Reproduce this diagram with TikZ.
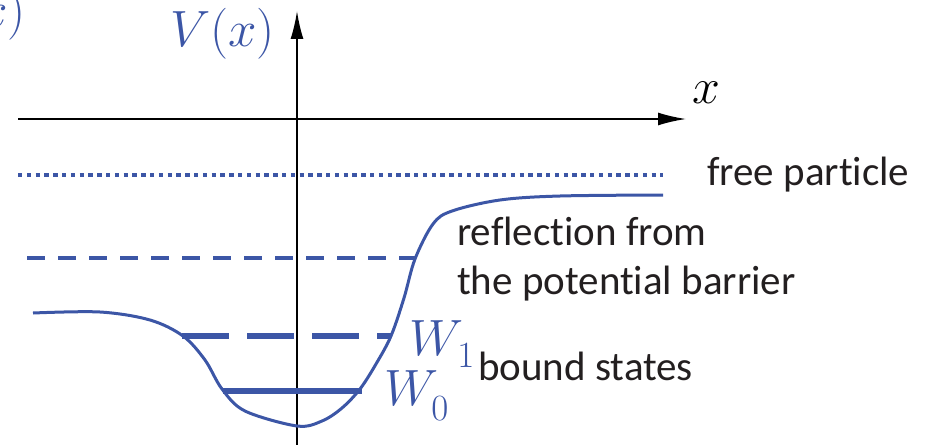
\RequirePackage{fix-cm}
\documentclass[tikz,border=0pt]{standalone}
\usepackage{fontspec}
\setmainfont{Carlito}[Ligatures=NoCommon]
\usetikzlibrary{arrows.meta}
\definecolor{potblue}{RGB}{60,86,166}
\definecolor{txtgray}{RGB}{35,31,32}
\tikzset{
  axisline/.style={line width=1.8pt, black, -{Latex[length=28pt,width=13pt]}},
  curveline/.style={line width=3pt, potblue},
  lbltext/.style={font=\fontsize{41}{48}\selectfont, text=txtgray, inner sep=0pt, anchor=base west, align=left},
  mathlbl/.style={text=potblue, inner sep=0pt, anchor=base west},
}
\newcommand{\mth}[1]{{\fontsize{51}{51}\selectfont$#1$}}
\newcommand{\subnum}[2]{{\fontsize{37}{37}\selectfont\raisebox{#1}{$#2$}}}
\newcommand{\Vofx}{\mth{V(x)}}
\begin{document}
\begin{tikzpicture}[x=1pt,y=-1pt]
\useasboundingbox (0,0) rectangle (933,444);
% axes
\coordinate (xl) at (18,119);
\coordinate (xr) at (686,119);
\coordinate (yb) at (297,450);
\coordinate (yt) at (297,11);
\draw[axisline] (xl) -- (xr);
\draw[axisline] (yb) -- (yt);
\node[font=\fontsize{50}{50}\selectfont, inner sep=0pt, anchor=base west] (xlab) at (692,103) {$x$};
\node[mathlbl] (vlab) at (170,46) {\Vofx};
\node[mathlbl, anchor=base east] (vfrag) at (26,28) {\Vofx};
% levels
\coordinate (fl) at (18,175);
\coordinate (fr) at (663,175);
\draw[potblue, line width=4pt, dash pattern=on 4.4pt off 4.4pt] (fl) -- (fr);
\coordinate (rl) at (27,258);
\coordinate (rr) at (415,258);
\draw[potblue, line width=4pt, dash pattern=on 18pt off 13pt] (rl) -- (rr);
\coordinate (w1l) at (182,336);
\coordinate (w1r) at (391,336);
\draw[potblue, line width=5.5pt, dash pattern=on 47pt off 18pt] (w1l) -- (w1r);
\coordinate (w0l) at (223,391);
\coordinate (w0r) at (362,391);
\draw[potblue, line width=5.5pt] (w0l) -- (w0r);
% potential curve
\draw[curveline] plot[smooth, tension=0.55] coordinates {
 (33,313) (100,312) (150,320) (183,336) (205,360) (222,389) (245,411) (297,426)
 (322,421) (342,408) (360,389) (376,364) (391,336) (404,298) (415,259) (433,224)
 (452,211) (500,200) (560,196) (663,195)};
% labels
\node[lbltext] (free) at (707,185) {free particle};
\node[lbltext] (refl1) at (457,245) {reflection from};
\node[lbltext] (refl2) at (457,294) {the potential barrier};
\node[lbltext] (bound) at (478,380) {bound states};
\node[mathlbl] (w1) at (409,355) {\mth{W}\kern-6pt\subnum{-12pt}{1}};
\node[mathlbl] (w0) at (384,405) {\mth{W}\kern-7pt\subnum{-15pt}{0}};
\end{tikzpicture}
\end{document}
